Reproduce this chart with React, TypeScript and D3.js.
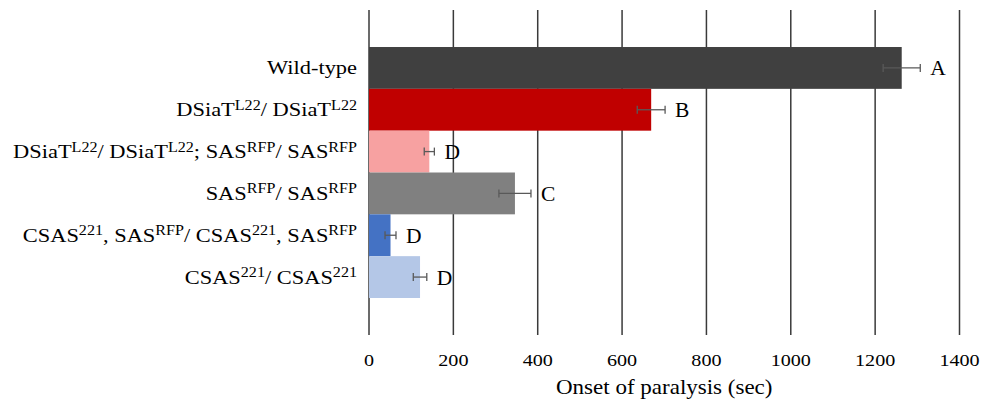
import React from "react";
import * as d3 from "d3";

// Genotypes, top to bottom; ^{...} marks superscript allele names
const categories = [
  "Wild-type",
  "DSiaT^{L22}/ DSiaT^{L22}",
  "DSiaT^{L22}/ DSiaT^{L22}; SAS^{RFP}/ SAS^{RFP}",
  "SAS^{RFP}/ SAS^{RFP}",
  "CSAS^{221}, SAS^{RFP}/ CSAS^{221}, SAS^{RFP}",
  "CSAS^{221}/ CSAS^{221}",
];
const means = [1263, 669, 143, 346, 51, 121];
const errors = [44, 33, 12, 38, 13, 16];
const groups = ["A", "B", "D", "C", "D", "D"];
const colors = ["#404040", "#C00000", "#F7A1A1", "#808080", "#4472C4", "#B4C7E7"];
const xTicks = [0, 200, 400, 600, 800, 1000, 1200, 1400];

const W = 983;
const H = 402;
const left = 369;
const right = 959.5;
const top = 10;
const bottom = 335;
const FONT = "'Liberation Serif', 'Times New Roman', serif";
const SX = 1.15; // horizontal stretch of label text

function parseLabel(s: string) {
  const parts: { t: string; sup: boolean }[] = [];
  const re = /\^\{([^}]*)\}/g;
  let last = 0;
  let m: RegExpExecArray | null;
  while ((m = re.exec(s))) {
    if (m.index > last) parts.push({ t: s.slice(last, m.index), sup: false });
    parts.push({ t: m[1], sup: true });
    last = m.index + m[0].length;
  }
  if (last < s.length) parts.push({ t: s.slice(last), sup: false });
  return parts;
}

export default function App() {
  const x = d3.scaleLinear().domain([0, 1400]).range([left, right]);
  const y = d3
    .scaleBand<number>()
    .domain(d3.range(categories.length))
    .range([top, bottom])
    .paddingInner(0)
    .paddingOuter(0.885);
  const bw = y.bandwidth();
  const labelSize = 19.5;
  const supSize = 14;

  return (
    <svg
      width={W}
      height={H}
      style={{ position: "absolute", left: 0, top: 0, background: "#fff" }}
      fontFamily={FONT}
    >
      {/* vertical gridlines */}
      {xTicks.map((t) => (
        <line
          key={t}
          x1={x(t)}
          x2={x(t)}
          y1={top}
          y2={bottom}
          stroke="#3a3a3a"
          strokeWidth={1.5}
        />
      ))}

      {/* bars */}
      {means.map((v, i) => (
        <rect
          key={i}
          x={x(0)}
          y={y(i)!}
          width={x(v) - x(0)}
          height={bw}
          fill={colors[i]}
        />
      ))}

      {/* error bars */}
      {means.map((v, i) => {
        const cy = y(i)! + bw / 2;
        const x0 = x(v - errors[i]);
        const x1 = x(v + errors[i]);
        return (
          <g key={i} stroke="#595959" strokeWidth={1.3}>
            <line x1={x0} x2={x1} y1={cy} y2={cy} />
            <line x1={x0} x2={x0} y1={cy - 4} y2={cy + 4} />
            <line x1={x1} x2={x1} y1={cy - 4} y2={cy + 4} />
          </g>
        );
      })}

      {/* significance letters */}
      {means.map((v, i) => (
        <text
          key={i}
          x={x(v + errors[i]) + 10}
          y={y(i)! + bw / 2 + 7.5}
          fontSize={21.5}
          fill="#000"
        >
          {groups[i]}
        </text>
      ))}

      {/* category labels */}
      {categories.map((c, i) => (
        <text
          key={i}
          transform={`translate(${left - 12},${y(i)! + bw / 2 + 6.5}) scale(${SX},1)`}
          textAnchor="end"
          fontSize={labelSize}
          fill="#000"
        >
          {parseLabel(c).map((p, j) =>
            p.sup ? (
              <tspan key={j} fontSize={supSize} dy={-6.5}>
                {p.t}
              </tspan>
            ) : (
              <tspan key={j} dy={j > 0 ? 6.5 : 0}>
                {p.t}
              </tspan>
            )
          )}
        </text>
      ))}

      {/* tick labels */}
      {xTicks.map((t) => (
        <text
          key={t}
          transform={`translate(${x(t)},366) scale(${SX},1)`}
          textAnchor="middle"
          fontSize={17.5}
          fill="#000"
        >
          {t}
        </text>
      ))}

      {/* axis title */}
      <text
        transform={`translate(${(left + right) / 2},394) scale(${SX},1)`}
        textAnchor="middle"
        fontSize={20}
        fill="#000"
      >
        Onset of paralysis (sec)
      </text>
    </svg>
  );
}
